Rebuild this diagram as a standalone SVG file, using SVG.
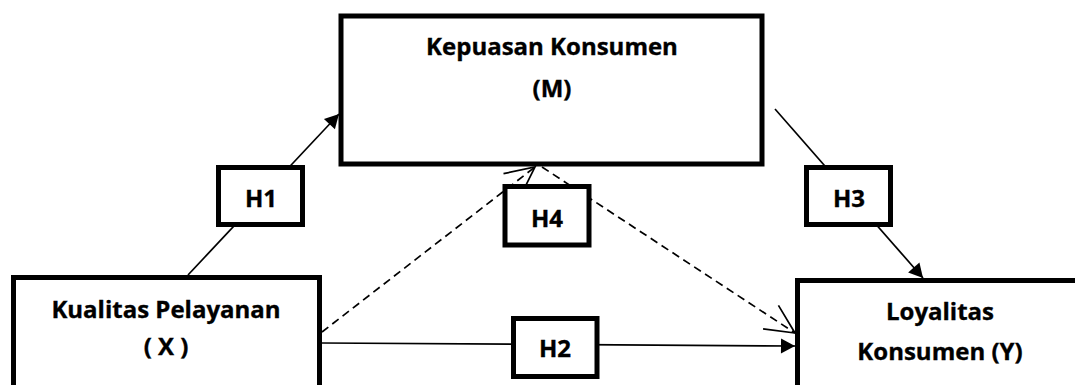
<svg xmlns="http://www.w3.org/2000/svg" width="1075" height="385" viewBox="0 0 1075 385">
<style>
.box{fill:#fff;stroke:#000;stroke-width:5}
.lbl{font-family:"Open Sans","Liberation Sans",sans-serif;font-weight:bold;font-size:24px;text-anchor:middle;fill:#000;stroke:#000;stroke-width:0.35}
.ln{stroke:#000;stroke-width:1.7;fill:none}
.dash{stroke:#000;stroke-width:1.7;fill:none;stroke-dasharray:8 5}
</style>
<defs>
<marker id="fill" markerUnits="userSpaceOnUse" markerWidth="20" markerHeight="20" viewBox="-16 -10 20 20" refX="0" refY="0" orient="auto" overflow="visible">
<path d="M-14,-7.5 L0,0 L-14,7.5 Z" fill="#000"/>
</marker>
<marker id="open" markerUnits="userSpaceOnUse" markerWidth="40" markerHeight="40" viewBox="-35 -20 40 40" refX="0" refY="0" orient="auto" overflow="visible">
<path d="M-29,-14 L0,0 L-29,14" fill="none" stroke="#000" stroke-width="1.7"/>
</marker>
</defs>
<g id="connectors">
<line class="ln" x1="188" y1="275" x2="339" y2="114" marker-end="url(#fill)"/>
<line class="ln" x1="775" y1="109" x2="923" y2="278" marker-end="url(#fill)"/>
<line class="ln" x1="322" y1="343" x2="795" y2="346" marker-end="url(#fill)"/>
<line class="dash" x1="322" y1="332" x2="535" y2="167" marker-end="url(#open)"/>
<line class="dash" x1="542" y1="167" x2="795" y2="333" marker-end="url(#open)"/>
</g>
<g id="node-M">
<rect class="box" x="341" y="16" width="421" height="148"/>
<text class="lbl" x="552" y="55">Kepuasan Konsumen</text>
<text class="lbl" x="552" y="97">(M)</text>
</g>
<g id="node-X">
<rect class="box" x="13.5" y="277.5" width="306" height="120"/>
<text class="lbl" x="166" y="318">Kualitas Pelayanan</text>
<text class="lbl" x="166" y="355">( X )</text>
</g>
<g id="node-Y">
<rect class="box" x="797.5" y="280.5" width="300" height="120"/>
<text class="lbl" x="940" y="320">Loyalitas</text>
<text class="lbl" x="940" y="360">Konsumen (Y)</text>
</g>
<g id="node-H1">
<rect class="box" x="218.5" y="167.5" width="84" height="57"/>
<text class="lbl" x="261" y="207">H1</text>
</g>
<g id="node-H3">
<rect class="box" x="806.5" y="167.5" width="84" height="57"/>
<text class="lbl" x="849" y="207">H3</text>
</g>
<g id="node-H4">
<rect class="box" x="505" y="186.5" width="84" height="58.5"/>
<text class="lbl" x="547" y="227">H4</text>
</g>
<g id="node-H2">
<rect class="box" x="513.5" y="318.5" width="83.5" height="58"/>
<text class="lbl" x="555" y="357">H2</text>
</g>
</svg>
